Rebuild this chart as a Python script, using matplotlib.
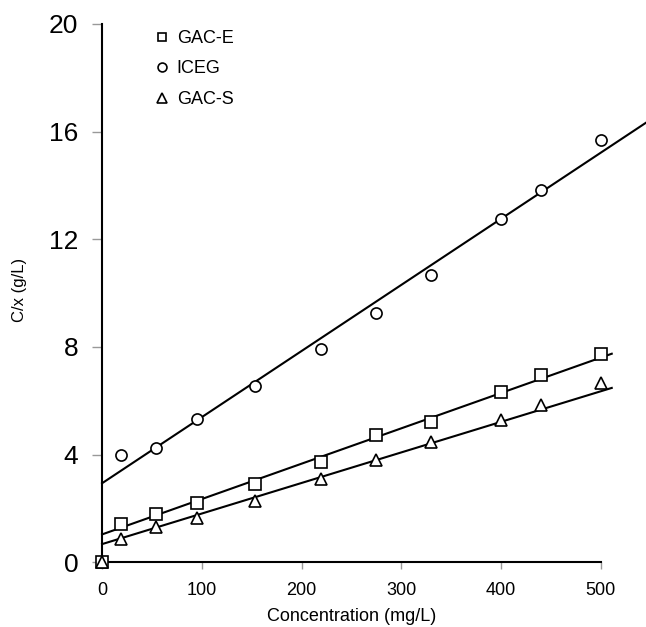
import numpy as np
import matplotlib.pyplot as plt

plt.rcParams['font.family'] = ['Liberation Sans', 'DejaVu Sans']

# concentration (mg/L)
conc = [0, 19, 54, 95, 153, 219, 275, 330, 400, 440, 500]
conc_iceg = [19, 54, 95, 153, 219, 275, 330, 400, 440, 500]

# C/x (g/L)
gac_e = [0, 1.41, 1.81, 2.20, 2.91, 3.72, 4.74, 5.22, 6.32, 6.95, 7.75]
iceg = [3.99, 4.25, 5.33, 6.55, 7.93, 9.27, 10.68, 12.75, 13.83, 15.69]
gac_s = [0, 0.88, 1.30, 1.66, 2.28, 3.10, 3.79, 4.47, 5.29, 5.85, 6.68]

# linear trend lines: intercept, slope, x end
fit_e = (1.04, 0.01313, 511)
fit_i = (2.94, 0.02455, 545)
fit_s = (0.68, 0.01135, 511)

fig = plt.figure(figsize=(6.46, 6.27), dpi=100)
ax = fig.add_axes([0.158, 0.103, 0.772, 0.859])

mk = dict(linestyle='none', markerfacecolor='white', markeredgecolor='black',
          markeredgewidth=1.2, clip_on=False, zorder=3)
ax.plot(conc, gac_e, marker='s', markersize=8, label='GAC-E', **mk)
ax.plot(conc_iceg, iceg, marker='o', markersize=8, label='ICEG', **mk)
ax.plot(conc, gac_s, marker='^', markersize=9, label='GAC-S', **mk)

for b, m, xe in (fit_e, fit_i, fit_s):
    xs = np.array([0, xe])
    ax.plot(xs, b + m * xs, color='black', linewidth=1.5, clip_on=False, zorder=2)

ax.set_xlim(0, 500)
ax.set_ylim(0, 20)
ax.set_xticks([0, 100, 200, 300, 400, 500])
ax.set_yticks([0, 4, 8, 12, 16, 20])

for s in ('top', 'right'):
    ax.spines[s].set_visible(False)
for s in ('left', 'bottom'):
    ax.spines[s].set_linewidth(1.5)

ax.tick_params(axis='y', direction='out', length=7, width=1, color='#999999',
               labelsize=19, pad=10)
ax.tick_params(axis='x', direction='out', length=5, width=1, color='#999999',
               labelsize=13, pad=9)

ax.set_xlabel('Concentration (mg/L)', fontsize=13)
ax.set_ylabel('C/x (g/L)', fontsize=12)
ax.yaxis.set_label_coords(-0.15, 0.506)
ax.xaxis.set_label_coords(0.5, -0.085)

ax.legend(loc='upper left', bbox_to_anchor=(0.07, 1.019), frameon=False,
          fontsize=13, handletextpad=0.3, labelspacing=0.75, handlelength=1.0,
          markerscale=0.8)

fig.savefig('out.png', dpi=100)
